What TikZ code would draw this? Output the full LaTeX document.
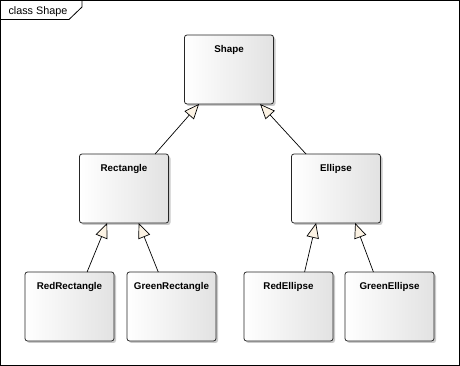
\documentclass[tikz,border=0pt]{standalone}
\usepackage{fontspec}
\setmainfont{Liberation Sans}
\usetikzlibrary{positioning,arrows.meta,shadows}
\definecolor{tipcream}{HTML}{FCF3E4}
\definecolor{boxgray}{HTML}{E2E2E2}

\begin{document}
\begin{tikzpicture}[x=1pt, y=1pt,
    cls/.style={draw=black!85, line width=0.8pt, rounded corners=2.5pt, left color=white, right color=boxgray,
      drop shadow={shadow xshift=2pt, shadow yshift=-2pt, fill=black!35, opacity=0.6},
      font=\fontsize{9.8}{11}\selectfont\bfseries, inner ysep=0pt, outer sep=0pt,
      minimum width=89pt, text height=18pt, text depth=51pt},
    arr/.style={-{Triangle[length=15pt, width=12.5pt, fill=tipcream]}, line width=0.7pt}]
  \useasboundingbox (0,0) rectangle (460,366);
  \draw[line width=0.8pt] (0.5,0.5) rectangle (459,365.5);
  \draw[line width=0.8pt] (0.5,346.5) -- (69,346.5) -- (82,359) -- (82,365.5);
  \node[anchor=base west, font=\fontsize{10.8}{12}\selectfont] (title) at (5,351) {class Shape};
  \node[cls] (shape) at (229,296.5)  {Shape};
  \node[cls] (rect)  at (124,177.5)  {Rectangle};
  \node[cls] (ell)   at (336,177.5)  {Ellipse};
  \node[cls] (rr)    at (69.5,59.5)  {RedRectangle};
  \node[cls] (gr)    at (171.5,59.5) {GreenRectangle};
  \node[cls] (re)    at (288.5,59.5) {RedEllipse};
  \node[cls] (ge)    at (389.5,59.5) {GreenEllipse};
  \foreach \a/\aa/\b/\bb in {rect/48.1/shape/-131.5, ell/131.9/shape/-48.5, rr/63.1/rect/-116.2,
      gr/111.4/rect/-67.9, re/65.8/ell/-120.1, ge/115.6/ell/-61.2} { \draw[arr] (\a.\aa) -- (\b.\bb); }
\end{tikzpicture}
\end{document}
